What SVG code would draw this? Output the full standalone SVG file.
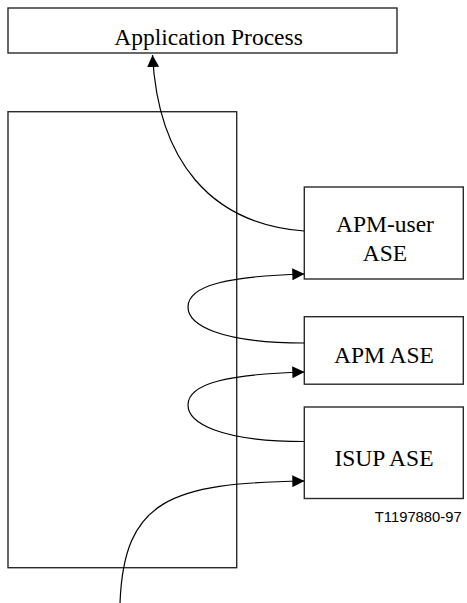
<svg xmlns="http://www.w3.org/2000/svg" width="467" height="603" viewBox="0 0 467 603">
<style>
.box{fill:#fff;stroke:#2a2a2a;stroke-width:1.4}
.lbl{font-family:"Liberation Serif","Times New Roman",serif;font-size:23.5px;fill:#000;text-anchor:middle}
.tag{font-family:"Liberation Sans",Arial,sans-serif;font-size:14.8px;fill:#000}
.con{fill:none;stroke:#000;stroke-width:1.2}
</style>
<defs>
<marker id="ah" markerWidth="12" markerHeight="12" viewBox="0 0 12 12" refX="12" refY="6" orient="auto" markerUnits="userSpaceOnUse">
<path d="M0,0 L12,6 L0,12 Z" fill="#000"/>
</marker>
</defs>
<rect width="467" height="603" fill="#fff"/>
<g id="application-process">
<rect class="box" x="8" y="8" width="389" height="45"/>
<text class="lbl" x="208.5" y="45">Application Process</text>
</g>
<g id="container">
<rect class="box" x="8" y="111.7" width="228.7" height="456"/>
</g>
<g id="apm-user-ase">
<rect class="box" x="304.3" y="187" width="159" height="92"/>
<text class="lbl" x="385" y="232.3">APM-user</text>
<text class="lbl" x="385" y="261">ASE</text>
</g>
<g id="apm-ase">
<rect class="box" x="304.3" y="316.7" width="159" height="67.5"/>
<text class="lbl" x="384" y="363.3">APM ASE</text>
</g>
<g id="isup-ase">
<rect class="box" x="304.3" y="407" width="159" height="91.5"/>
<text class="lbl" x="384" y="465.5">ISUP ASE</text>
</g>
<text class="tag" x="461.7" y="521.7" text-anchor="end">T1197880-97</text>
<g id="connectors">
<path class="con" d="M304.3,231 C210,224 158,160 152.5,55" marker-end="url(#ah)"/>
<path class="con" d="M304.3,343 C220,343 188,325 188,307 C188,285 230,276 304.3,274" marker-end="url(#ah)"/>
<path class="con" d="M304.3,441.5 C220,441.5 188,423 188,405 C188,383 230,374 304.3,372" marker-end="url(#ah)"/>
<path class="con" d="M120,603 C124,500 170,483 304.3,481" marker-end="url(#ah)"/>
</g>
</svg>
